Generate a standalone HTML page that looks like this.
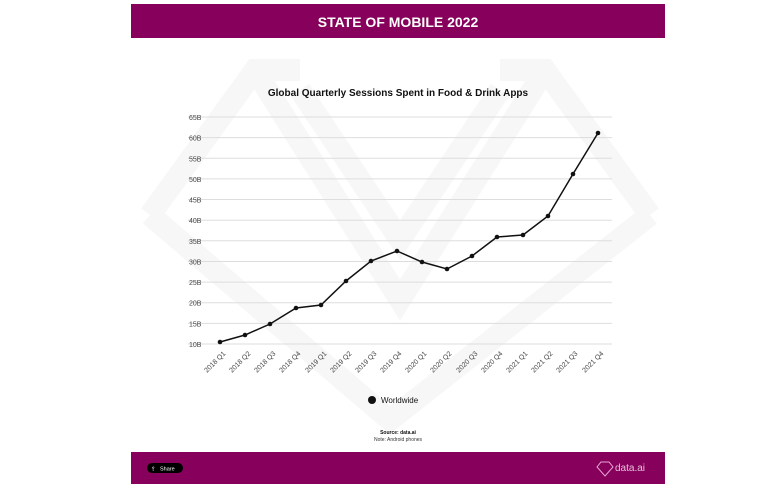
<!DOCTYPE html>
<html><head><style>
body{margin:0;width:758px;height:488px;background:#fff;overflow:hidden;font-family:"Liberation Sans",sans-serif}
</style></head><body>
<svg width="758" height="488" viewBox="0 0 758 488" xmlns="http://www.w3.org/2000/svg" font-family="Liberation Sans, sans-serif">
<g fill="none" stroke="#f7f7f7" stroke-width="22">
<polyline points="150,215 255,70 300,70"/>
<polyline points="650,215 545,70 500,70"/>
<polyline points="150,215 390,420 650,215"/>
<polyline points="255,70 400,300 545,70"/>
<polyline points="300,90 400,240 500,90"/>
</g>
<rect x="131" y="4" width="534" height="34" fill="#87005b"/>
<text x="398" y="27" fill="#fff" font-size="14" font-weight="bold" text-anchor="middle">STATE OF MOBILE 2022</text>
<text x="398" y="96" fill="#111" font-size="10" font-weight="bold" text-anchor="middle">Global Quarterly Sessions Spent in Food &amp; Drink Apps</text>
<g stroke="#ddd" stroke-width="1">
<line x1="188" x2="612" y1="117" y2="117"/><line x1="188" x2="612" y1="137.6" y2="137.6"/><line x1="188" x2="612" y1="158.3" y2="158.3"/><line x1="188" x2="612" y1="178.9" y2="178.9"/><line x1="188" x2="612" y1="199.5" y2="199.5"/><line x1="188" x2="612" y1="220.2" y2="220.2"/><line x1="188" x2="612" y1="240.8" y2="240.8"/><line x1="188" x2="612" y1="261.5" y2="261.5"/><line x1="188" x2="612" y1="282.1" y2="282.1"/><line x1="188" x2="612" y1="302.7" y2="302.7"/><line x1="188" x2="612" y1="323.4" y2="323.4"/><line x1="188" x2="612" y1="344" y2="344"/>
</g>
<g font-size="7" fill="#444">
<text x="189" y="120">65B</text><text x="189" y="140.6">60B</text><text x="189" y="161.3">55B</text><text x="189" y="181.9">50B</text><text x="189" y="202.5">45B</text><text x="189" y="223.2">40B</text><text x="189" y="243.8">35B</text><text x="189" y="264.5">30B</text><text x="189" y="285.1">25B</text><text x="189" y="305.7">20B</text><text x="189" y="326.4">15B</text><text x="189" y="347">10B</text>
</g>
<g font-size="7" fill="#444" text-anchor="end">
<text transform="translate(226,354) rotate(-45)">2018 Q1</text>
<text transform="translate(251,354) rotate(-45)">2018 Q2</text>
<text transform="translate(276,354) rotate(-45)">2018 Q3</text>
<text transform="translate(301,354) rotate(-45)">2018 Q4</text>
<text transform="translate(327,354) rotate(-45)">2019 Q1</text>
<text transform="translate(352,354) rotate(-45)">2019 Q2</text>
<text transform="translate(377,354) rotate(-45)">2019 Q3</text>
<text transform="translate(402,354) rotate(-45)">2019 Q4</text>
<text transform="translate(427,354) rotate(-45)">2020 Q1</text>
<text transform="translate(452,354) rotate(-45)">2020 Q2</text>
<text transform="translate(478,354) rotate(-45)">2020 Q3</text>
<text transform="translate(503,354) rotate(-45)">2020 Q4</text>
<text transform="translate(528,354) rotate(-45)">2021 Q1</text>
<text transform="translate(553,354) rotate(-45)">2021 Q2</text>
<text transform="translate(578,354) rotate(-45)">2021 Q3</text>
<text transform="translate(604,354) rotate(-45)">2021 Q4</text>
</g>
<polyline fill="none" stroke="#111" stroke-width="1.5" points="220,342 245,335 270,324 296,308 321,305 346,281 371,261 397,251 422,262 447,269 472,256 497,237 523,235 548,216 573,174 598,133"/>
<g fill="#111">
<circle cx="220" cy="342" r="2.3"/><circle cx="245" cy="335" r="2.3"/><circle cx="270" cy="324" r="2.3"/><circle cx="296" cy="308" r="2.3"/><circle cx="321" cy="305" r="2.3"/><circle cx="346" cy="281" r="2.3"/><circle cx="371" cy="261" r="2.3"/><circle cx="397" cy="251" r="2.3"/><circle cx="422" cy="262" r="2.3"/><circle cx="447" cy="269" r="2.3"/><circle cx="472" cy="256" r="2.3"/><circle cx="497" cy="237" r="2.3"/><circle cx="523" cy="235" r="2.3"/><circle cx="548" cy="216" r="2.3"/><circle cx="573" cy="174" r="2.3"/><circle cx="598" cy="133" r="2.3"/>
<circle cx="372" cy="400" r="4"/>
</g>
<text x="381" y="403" font-size="8" fill="#111">Worldwide</text>
<text x="398" y="434" font-size="5" font-weight="bold" fill="#111" text-anchor="middle">Source: data.ai</text>
<text x="398" y="441" font-size="5" fill="#333" text-anchor="middle">Note: Android phones</text>
<rect x="131" y="452" width="534" height="32" fill="#87005b"/>
<rect x="147" y="463" width="36" height="10" rx="5" fill="#000"/>
<text x="160" y="470.5" font-size="5.5" fill="#fff">Share</text>
<text x="151" y="470.5" font-size="5.5" fill="#fff">⇪</text>
<polygon points="601,462 609,462 613,467 605,476 597,467" fill="none" stroke="#e7a8d3" stroke-width="1"/>
<text x="615" y="471" font-size="10" fill="#e7c0dc">data.ai</text>
</svg>
</body></html>
